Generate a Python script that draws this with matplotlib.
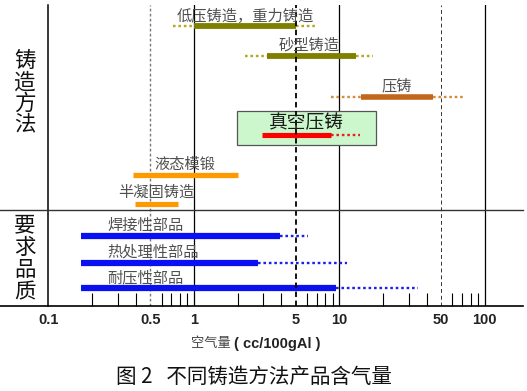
import matplotlib
matplotlib.use("Agg")
import matplotlib.pyplot as plt
from matplotlib.patches import Rectangle
import numpy as np

# ---------------- data ----------------
methods = ["低压铸造，重力铸造", "砂型铸造", "压铸", "真空压铸", "液态模锻", "半凝固铸造",
           "焊接性部品", "热处理性部品", "耐压性部品"]
dot_low = [0.72, 2.25, 8.7, None, None, None, None, None, None]
solid_low = [1.0, 3.2, 14.0, 2.95, 0.38, 0.39, 0.168, 0.168, 0.168]
solid_high = [5.0, 13.0, 44.0, 8.8, 2.0, 0.78, 3.9, 2.77, 9.5]
dot_high = [7.0, 17.0, 72.0, 13.8, None, None, 6.1, 11.3, 35.0]
group_labels = ["铸造方法", "要求品质"]
tick_values = [0.1, 0.5, 1, 5, 10, 50, 100]
tick_labels = ["0.1", "0.5", "1", "5", "10", "50", "100"]
xlabel_cn = "空气量"
xlabel_en = "( cc/100gAl )"
caption = "图 2   不同铸造方法产品含气量"

# ---------------- layout / style ----------------
W, H = 527, 391
DPI = 100
row_y = [26, 56, 97, 135, 174.5, 204, 235.7, 262.7, 287.7]
label_x = [None, None, None, None, None, None, 0.252, 0.252, 0.252]
label_dy = [-9.5, -10.5, -11.5, -12.5, -10.5, -11.5, -10.5, -10.5, -9.5]
bar_colors = ["#7f7f00", "#7f7f00", "#c2661c", "#ff0000", "#ff9900", "#ff9900",
              "#0a10f0", "#0a10f0", "#0a10f0"]
dot_colors = ["#b4a822", "#b4a822", "#d48a3c", "#e82020", "#ff9900", "#ff9900",
              "#1a20f0", "#1a20f0", "#1a20f0"]
bar_lw = [4.2, 4.2, 4.0, 3.7, 3.8, 3.7, 4.5, 4.5, 4.5]
label_size = [11, 11, 11, 13.5, 11, 11, 11, 11, 11]

cjk = ["Noto Sans CJK SC", "DejaVu Sans"]
plt.rcParams["font.family"] = cjk

fig = plt.figure(figsize=(W / DPI, H / DPI), dpi=DPI)
ax_left, ax_right, ax_top, ax_bottom = 48, 523, 5, 306
ax = fig.add_axes([ax_left / W, 1 - ax_bottom / H, (ax_right - ax_left) / W,
                   (ax_bottom - ax_top) / H])
ax.set_xscale("log")
px_per_dec = 145.3
x0 = 194.0
xmin = 10 ** ((ax_left - x0) / px_per_dec)
xmax = 10 ** ((ax_right - x0) / px_per_dec)
ax.set_xlim(xmin, xmax)
ax.set_ylim(ax_bottom, ax_top)

for s in ["top", "right", "bottom"]:
    ax.spines[s].set_visible(False)
ax.spines["left"].set_linewidth(1.1)
ax.set_yticks([])

# vertical reference lines
for v in [1, 10, 100]:
    ax.axvline(v, color="black", lw=0.9, zorder=1)
ax.axvline(0.5, color="#7a7a7a", lw=1.0, ls=(0, (2, 1.6)), zorder=1)
ax.axvline(5, color="black", lw=1.3, ls=(0, (3, 2)), zorder=4)
ax.axvline(50, color="#333333", lw=0.7, ls=(0, (4, 3)), zorder=1)

# horizontal lines extended into label area
ext = -(ax_left - 0) / (ax_right - ax_left)
ax.axhline(306, xmin=ext, xmax=1, color="black", lw=1.2, clip_on=False, zorder=5)
ax.axhline(210, xmin=ext, xmax=1, color="#333333", lw=1.0, clip_on=False, zorder=5)

# vacuum die-casting box
bx0 = 10 ** ((237 - x0) / px_per_dec)
bx1 = 10 ** ((376 - x0) / px_per_dec)
ax.add_patch(Rectangle((bx0, 111), bx1 - bx0, 34, facecolor="#ccf7cc",
                       edgecolor="#555555", lw=0.9, zorder=2))

# bars
for i, name in enumerate(methods):
    y = row_y[i]
    if dot_low[i] is not None:
        ax.plot([dot_low[i], solid_low[i]], [y, y], color=dot_colors[i], lw=1.7,
                ls=(0, (1.1, 1.2)), solid_capstyle="butt", zorder=3)
    if dot_high[i] is not None:
        ax.plot([solid_high[i], dot_high[i]], [y, y], color=dot_colors[i], lw=1.7,
                ls=(0, (1.1, 1.2)), solid_capstyle="butt", zorder=3)
    ax.plot([solid_low[i], solid_high[i]], [y, y], color=bar_colors[i], lw=bar_lw[i],
            solid_capstyle="butt", zorder=3)
    # label
    if label_x[i] is not None:
        lx, ha = label_x[i], "left"
    elif i == 3:
        lx, ha = np.sqrt(bx0 * bx1), "center"
    else:
        lo = dot_low[i] if dot_low[i] is not None else solid_low[i]
        hi = dot_high[i] if dot_high[i] is not None else solid_high[i]
        lx, ha = np.sqrt(lo * hi), "center"
    ax.text(lx, y + label_dy[i], name, ha=ha, va="center", fontsize=label_size[i],
            color="#1a1a1a" if i == 3 else "#505050", zorder=6)

# ticks
ax.set_xticks(tick_values)
ax.set_xticklabels(tick_labels, fontfamily="Liberation Sans", fontweight="bold",
                   fontsize=10.5, color="#222222")
minor = [m * d for d in [0.1, 1, 10] for m in [2, 3, 4, 6, 7, 8, 9]]
ax.set_xticks(minor, minor=True)
ax.xaxis.set_minor_formatter(matplotlib.ticker.NullFormatter())
ax.tick_params(axis="x", which="major", length=0, pad=5)
ax.tick_params(axis="x", which="minor", direction="in", length=9.5, width=0.8,
               color="black")

# group labels (vertical, one char each)
def fy(py):
    return 1 - py / H

for ch, py in zip(group_labels[0], [61, 83, 104, 124]):
    fig.text(25 / W, fy(py), ch, ha="center", va="center", fontsize=15.5, color="#111111")
for ch, py in zip(group_labels[1], [225, 248, 270, 292]):
    fig.text(25 / W, fy(py), ch, ha="center", va="center", fontsize=15.5, color="#111111")

# x label (two parts)
fig.text(231 / W, fy(344), xlabel_cn, ha="right", va="center", fontsize=9.5,
         color="#444444")
fig.text(234 / W, fy(344), xlabel_en, ha="left", va="center", fontsize=10.5,
         fontfamily="Liberation Sans", fontweight="bold", color="#222222")

# caption
fig.text(254 / W, fy(377), caption, ha="center", va="center", fontsize=14.8,
         color="#111111")

fig.savefig("out.png", dpi=DPI)
